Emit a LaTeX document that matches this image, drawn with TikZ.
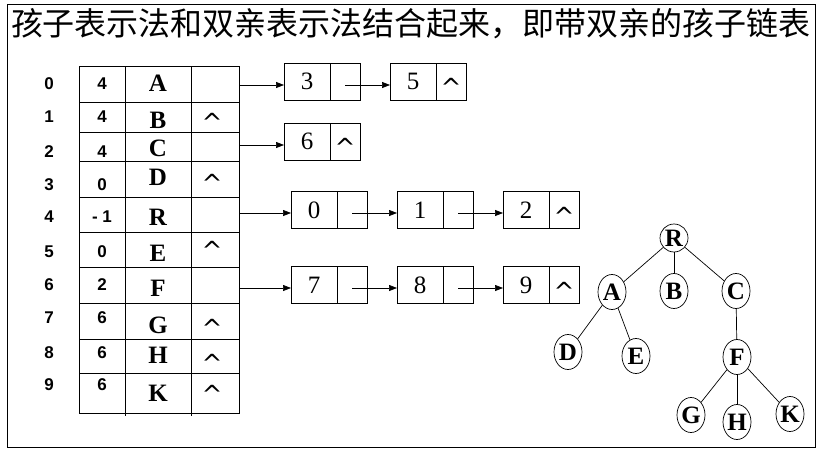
\documentclass[tikz,border=0pt]{standalone}
\usepackage{fontspec}
\setmainfont{Liberation Serif}
\newfontfamily\cjk{Noto Sans CJK SC}
\newfontfamily\slotfont{Liberation Sans}
\newfontfamily\nilfont{DejaVu Sans}
\usetikzlibrary{arrows.meta,positioning,shapes.geometric}

\begin{document}
\begin{tikzpicture}[
  x=1pt, y=-1pt,
  slot/.style={font=\slotfont\bfseries\fontsize{17}{17}\selectfont},
  letter/.style={font=\bfseries\fontsize{25}{25}\selectfont},
  nil/.style={font=\nilfont\fontsize{25}{25}\selectfont, anchor=base, yshift=-15pt, inner sep=0pt},
  kid/.style={draw, line width=0.8pt, outer sep=0pt, minimum width=46pt, minimum height=37pt, inner sep=0pt, font=\fontsize{25}{25}\selectfont},
  kidptr/.style={draw, line width=0.8pt, outer sep=0pt, minimum width=30pt, minimum height=37pt, inner sep=0pt},
  tnode/.style={draw, ellipse, line width=0.7pt, minimum width=28pt, minimum height=35pt, inner sep=0pt, font=\bfseries\fontsize{25}{25}\selectfont},
  arrow/.style={-{Triangle[length=8pt,width=6pt]}, line width=0.7pt},
  branch/.style={line width=0.7pt}
]
\useasboundingbox (0,0) rectangle (822,452);
\draw[line width=0.9pt] (7,4) rectangle (815,447);
\node[font=\cjk\fontsize{32}{32}\selectfont] (title) at (411,23.5) {孩子表示法和双亲表示法结合起来，即带双亲的孩子链表};

% parent table
\draw[line width=1pt] (79,67) rectangle (239,413);
\foreach \y in {102,132,161,197,232,267,303,339,373}
  \draw[line width=1pt] (79,\y) -- (239,\y);
\draw[line width=1pt] (125,67) -- (125,416);
\draw[line width=1pt] (191,67) -- (191,416);
\foreach \i/\p/\d/\yn/\yd in {0/4/A/84/83, 1/4/B/117/120, 2/4/C/152/148, 3/0/D/185/177, 4/{- 1}/R/217/217,
    5/0/E/252/253, 6/2/F/285/288, 7/6/G/318/325, 8/6/H/353/355, 9/6/K/385/393} {
  \node[slot] (idx\i) at (49,\yn) {\i};
  \node[slot] (par\i) at (102,\yn) {\p};
  \node[letter] (dat\i) at (158,\yd) {\d};
}
\foreach \r/\y in {1/116, 3/177, 5/244, 7/322, 8/357, 9/388}
  \node[nil] (nil\r) at (212,\y) {\textasciicircum};

% child lists
\coordinate (head0) at (239,85);
\coordinate (head2) at (239,145);
\coordinate (head4) at (239,213);
\coordinate (head6) at (239,288);

\node[kid, anchor=west] (kid3) at (284,81.5) {3};
\node[kidptr, right=0pt of kid3] (kid3ptr) {};
\node[kid, right=30pt of kid3ptr] (kid5) {5};
\node[kidptr, right=0pt of kid5] (kid5ptr) {};
\node[nil] (end5) at (kid5ptr.center) {\textasciicircum};

\node[kid, anchor=west] (kid6) at (284,141.5) {6};
\node[kidptr, right=0pt of kid6] (kid6ptr) {};
\node[nil] (end6) at (kid6ptr.center) {\textasciicircum};

\node[kid, anchor=west] (kid0) at (291,210) {0};
\node[kidptr, right=0pt of kid0] (kid0ptr) {};
\node[kid, right=30pt of kid0ptr] (kid1) {1};
\node[kidptr, right=0pt of kid1] (kid1ptr) {};
\node[kid, right=30pt of kid1ptr] (kid2) {2};
\node[kidptr, right=0pt of kid2] (kid2ptr) {};
\node[nil] (end2) at (kid2ptr.center) {\textasciicircum};

\node[kid, anchor=west] (kid7) at (291,285) {7};
\node[kidptr, right=0pt of kid7] (kid7ptr) {};
\node[kid, right=30pt of kid7ptr] (kid8) {8};
\node[kidptr, right=0pt of kid8] (kid8ptr) {};
\node[kid, right=30pt of kid8ptr] (kid9) {9};
\node[kidptr, right=0pt of kid9] (kid9ptr) {};
\node[nil] (end9) at (kid9ptr.center) {\textasciicircum};

\draw[arrow] (head0) -- (head0 -| kid3.west);
\draw[arrow] (kid3ptr.center |- head0) -- (head0 -| kid5.west);
\draw[arrow] (head2) -- (head2 -| kid6.west);
\draw[arrow] (head4) -- (head4 -| kid0.west);
\draw[arrow] (kid0ptr.center |- head4) -- (head4 -| kid1.west);
\draw[arrow] (kid1ptr.center |- head4) -- (head4 -| kid2.west);
\draw[arrow] (head6) -- (head6 -| kid7.west);
\draw[arrow] (kid7ptr.center |- head6) -- (head6 -| kid8.west);
\draw[arrow] (kid8ptr.center |- head6) -- (head6 -| kid9.west);

% tree
\node[tnode, minimum height=28pt] (R) at (674,238) {R};
\node[tnode] (A) at (612,292) {A};
\node[tnode] (B) at (674,291) {B};
\node[tnode] (C) at (736,291) {C};
\node[tnode] (D) at (568,352) {D};
\node[tnode] (E) at (636,356) {E};
\node[tnode] (F) at (737,357) {F};
\node[tnode] (G) at (691,415) {G};
\node[tnode] (H) at (737,422) {H};
\node[tnode] (K) at (790,414) {K};
\draw[branch] (R) -- (A);
\draw[branch] (R) -- (B);
\draw[branch] (R) -- (C);
\draw[branch] (A) -- (D);
\draw[branch] (A) -- (E);
\draw[branch] (C) -- (F);
\draw[branch] (F) -- (G);
\draw[branch] (F) -- (H);
\draw[branch] (F) -- (K);
\end{tikzpicture}
\end{document}
